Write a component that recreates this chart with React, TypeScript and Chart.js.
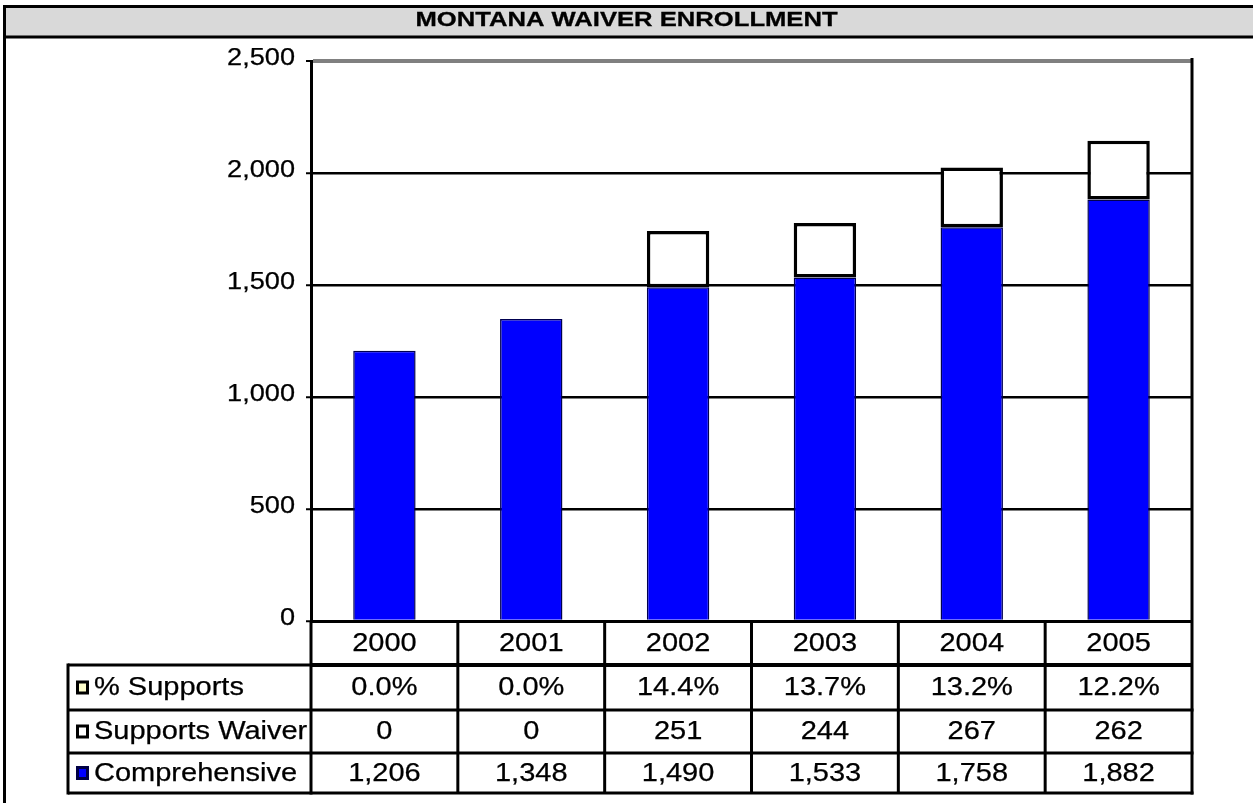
import React, { useEffect, useRef } from 'react';
import { Chart, registerables } from 'chart.js';

Chart.register(...registerables);

const chartTitle = 'MONTANA WAIVER ENROLLMENT';
const years = ['2000', '2001', '2002', '2003', '2004', '2005'];
const comprehensive = [1206, 1348, 1490, 1533, 1758, 1882];
const supportsWaiver = [0, 0, 251, 244, 267, 262];
const pctSupports = [0.0, 0.0, 14.4, 13.7, 13.2, 12.2];
const rowLabels = ['% Supports', 'Supports Waiver', 'Comprehensive'];
const yMin = 0;
const yMax = 2500;
const yStep = 500;

const FONT = '"Liberation Sans", Arial, Helvetica, sans-serif';

function sText(
  ctx: CanvasRenderingContext2D,
  text: string,
  x: number,
  y: number,
  align: CanvasTextAlign,
  font: string,
  sx = 1.16,
  weight = 0.25
) {
  ctx.save();
  ctx.translate(x, y);
  ctx.scale(sx, 1);
  ctx.font = font;
  ctx.fillStyle = '#000';
  ctx.strokeStyle = '#000';
  ctx.lineWidth = weight;
  ctx.textAlign = align;
  ctx.textBaseline = 'middle';
  ctx.fillText(text, 0, 0);
  if (weight > 0) ctx.strokeText(text, 0, 0);
  ctx.restore();
}

function line(ctx: CanvasRenderingContext2D, x1: number, y1: number, x2: number, y2: number, w = 3, color = '#000') {
  ctx.save();
  ctx.strokeStyle = color;
  ctx.lineWidth = w;
  ctx.beginPath();
  ctx.moveTo(x1, y1);
  ctx.lineTo(x2, y2);
  ctx.stroke();
  ctx.restore();
}

const framePlugin = {
  id: 'frame',
  beforeDraw(chart: any) {
    const ctx: CanvasRenderingContext2D = chart.ctx;
    const W = chart.width;
    const H = chart.height;
    ctx.save();
    ctx.fillStyle = '#fff';
    ctx.fillRect(0, 0, W, H);
    ctx.fillStyle = '#d9d9d9';
    ctx.fillRect(4, 6, W - 4, 31);
    ctx.restore();
    line(ctx, 3, 6.5, W, 6.5, 3);
    line(ctx, 3, 37, W, 37, 3);
    line(ctx, 4.5, 5, 4.5, H, 3);
    sText(ctx, chartTitle, W / 2, 20, 'center', 'bold 21px ' + FONT, 1.22, 0.3);
  },
  afterDraw(chart: any) {
    const ctx: CanvasRenderingContext2D = chart.ctx;
    const xs = chart.scales.x;
    const ys = chart.scales.y;
    const area = chart.chartArea;
    const L = area.left;
    const R = area.right;

    // y tick labels
    ys.ticks.forEach((t: any) => {
      const y = ys.getPixelForValue(t.value);
      sText(ctx, Number(t.value).toLocaleString('en-US'), 295, y - 2, 'right', '23px ' + FONT, 1.18);
    });

    // table geometry
    const top = area.bottom;
    const yearBottom = top + 44;
    const rowEdges = [yearBottom, yearBottom + 45, yearBottom + 88, yearBottom + 128];
    const labelLeft = 68;

    const bounds: number[] = [L];
    for (let i = 1; i < years.length; i++) {
      bounds.push((xs.getPixelForValue(i - 1) + xs.getPixelForValue(i)) / 2);
    }
    bounds.push(R);

    const rowFills = ['#ffffcc', '#ffffff', '#0000ff'];
    const rowValues = [
      pctSupports.map((v) => v.toFixed(1) + '%'),
      supportsWaiver.map((v) => v.toLocaleString('en-US')),
      comprehensive.map((v) => v.toLocaleString('en-US')),
    ];

    for (let r = 0; r < 3; r++) {
      const y0 = rowEdges[r];
      const y1 = rowEdges[r + 1];
      const mid = (y0 + y1) / 2;
      // swatch
      ctx.save();
      ctx.fillStyle = rowFills[r];
      ctx.fillRect(77.5, mid - 5.5, 10, 11);
      ctx.strokeStyle = r === 2 ? '#000044' : '#000';
      ctx.lineWidth = 3;
      ctx.strokeRect(77.5, mid - 5.5, 10, 11);
      ctx.restore();
      // label, clipped to cell
      ctx.save();
      ctx.beginPath();
      ctx.rect(labelLeft, y0, L - labelLeft - 1, y1 - y0);
      ctx.clip();
      sText(ctx, rowLabels[r], 94, mid + 1, 'left', '25px ' + FONT);
      ctx.restore();
      // values
      for (let i = 0; i < years.length; i++) {
        sText(ctx, rowValues[r][i], xs.getPixelForValue(i), mid + 1, 'center', '25px ' + FONT);
      }
    }

    // year row
    for (let i = 0; i < years.length; i++) {
      sText(ctx, years[i], xs.getPixelForValue(i), (top + yearBottom) / 2 + 1, 'center', '25px ' + FONT);
    }

    // table lines
    line(ctx, L, yearBottom, R, yearBottom, 4);
    line(ctx, labelLeft, yearBottom, L, yearBottom, 3);
    for (let r = 1; r < rowEdges.length; r++) {
      line(ctx, labelLeft, rowEdges[r], R + 1.5, rowEdges[r], 3);
    }
    line(ctx, labelLeft, yearBottom - 1.5, labelLeft, rowEdges[3] + 1.5, 3);
    line(ctx, L, top, L, rowEdges[3] + 1.5, 3);
    for (let i = 1; i < bounds.length - 1; i++) {
      line(ctx, bounds[i], top, bounds[i], rowEdges[3], 3);
    }
    line(ctx, R, area.top - 3, R, rowEdges[3] + 1.5, 3);
  },
};

export default function App() {
  const ref = useRef<HTMLCanvasElement | null>(null);

  useEffect(() => {
    if (!ref.current) return;
    const chart = new Chart(ref.current, {
      type: 'bar',
      data: {
        labels: years,
        datasets: [
          {
            label: 'Comprehensive',
            data: comprehensive,
            backgroundColor: '#0000ff',
            borderColor: '#000050',
            borderWidth: 1.5,
            borderSkipped: 'start',
            categoryPercentage: 1,
            barPercentage: 0.425,
          },
          {
            label: 'Supports Waiver',
            data: supportsWaiver,
            backgroundColor: '#ffffff',
            borderColor: '#000000',
            borderWidth: 3.5,
            borderSkipped: false,
            categoryPercentage: 1,
            barPercentage: 0.425,
          },
        ],
      },
      options: {
        responsive: false,
        animation: false,
        devicePixelRatio: 1,
        layout: { padding: { left: 0, right: 61, top: 61, bottom: 0 } },
        plugins: {
          legend: { display: false },
          tooltip: { enabled: false },
          title: { display: false },
        },
        scales: {
          x: {
            stacked: true,
            ticks: { display: false },
            grid: { display: false },
            border: { display: true, color: '#000', width: 3 },
            afterFit: (s: any) => {
              s.height = 182;
            },
          },
          y: {
            stacked: true,
            min: yMin,
            max: yMax,
            ticks: { display: false, stepSize: yStep },
            grid: {
              color: (c: any) => (c.tick && c.tick.value === yMax ? '#808080' : '#000'),
              lineWidth: (c: any) => (c.tick && c.tick.value === yMax ? 4 : 2.5),
              drawTicks: true,
              tickLength: 5,
              tickColor: '#000',
              tickWidth: 2,
            },
            border: { display: true, color: '#000', width: 3 },
            afterFit: (s: any) => {
              s.width = 311;
            },
          },
        },
      },
      plugins: [framePlugin],
    });
    return () => chart.destroy();
  }, []);

  return (
    <div style={{ position: 'absolute', left: 0, top: 0, width: 1253, height: 803 }}>
      <canvas ref={ref} width={1253} height={803} style={{ display: 'block', width: 1253, height: 803 }} />
    </div>
  );
}
